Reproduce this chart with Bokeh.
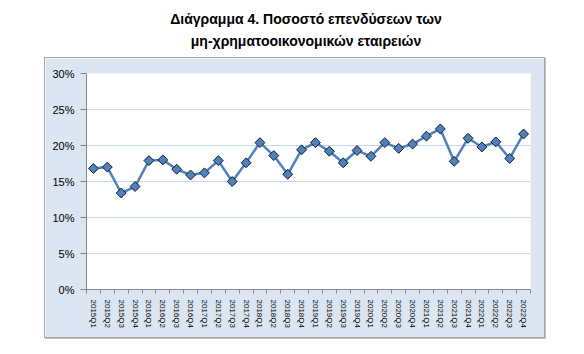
from bokeh.plotting import figure
from bokeh.layouts import column
from bokeh.core.properties import value
from bokeh.models import FixedTicker, PrintfTickFormatter, Range1d, ColumnDataSource
from bokeh.embed import file_html
from bokeh.resources import INLINE

quarters = ["2015Q1", "2015Q2", "2015Q3", "2015Q4",
            "2016Q1", "2016Q2", "2016Q3", "2016Q4",
            "2017Q1", "2017Q2", "2017Q3", "2017Q4",
            "2018Q1", "2018Q2", "2018Q3", "2018Q4",
            "2019Q1", "2019Q2", "2019Q3", "2019Q4",
            "2020Q1", "2020Q2", "2020Q3", "2020Q4",
            "2021Q1", "2021Q2", "2021Q3", "2021Q4",
            "2022Q1", "2022Q2", "2022Q3", "2022Q4"]
share = [16.8, 17.0, 13.4, 14.3,
         17.9, 18.0, 16.7, 15.9,
         16.2, 17.9, 15.0, 17.6,
         20.4, 18.6, 16.0, 19.4,
         20.4, 19.2, 17.6, 19.3,
         18.5, 20.4, 19.6, 20.2,
         21.3, 22.3, 17.8, 21.0,
         19.8, 20.5, 18.2, 21.6]
y_ticks = [0, 5, 10, 15, 20, 25, 30]
title_lines = ["Διάγραμμα 4. Ποσοστό επενδύσεων των",
               "μη-χρηματοοικονομικών εταιρειών"]

FONT = "Liberation Sans"
n = len(quarters)
xpos = [i + 0.5 for i in range(n)]
src = ColumnDataSource(dict(x=xpos, y=share, q=quarters))

# ---- title strip ----
TW, TH = 584, 58
tf = figure(width=TW, height=TH, output_backend="svg", toolbar_location=None,
            x_range=Range1d(0, TW), y_range=Range1d(TH, 0),
            min_border=0, outline_line_color=None,
            background_fill_color="white", border_fill_color="white")
tf.axis.visible = False
tf.grid.visible = False
tf.text(x=[292, 292], y=[18, 40], text=title_lines,
        text_align="center", text_baseline="middle",
        text_font=value(FONT), text_font_style="bold", text_font_size="14px",
        text_color="#000000")

# ---- chart panel ----
PW, PH = 499, 279
p = figure(width=PW, height=PH, output_backend="svg", toolbar_location=None,
           x_range=Range1d(0, n), y_range=Range1d(0, 30),
           min_border_left=41, min_border_right=14, min_border_top=15, min_border_bottom=48,
           background_fill_color="white", border_fill_color="#DCE6F2", outline_line_color=None,
           margin=(0, 0, 0, 45),
           styles={"outline": "1px solid #A6A6A6", "box-shadow": "1px 1px 0px 1px #C0C0C0"})

p.line("x", "y", source=src, line_color="#4F81BD", line_width=2.5)
p.scatter("x", "y", source=src, marker="square", angle=0.785398, size=7,
          fill_color="#4F81BD", line_color="#141C28", line_width=1)

p.xgrid.visible = False
p.ygrid.grid_line_color = "#C6D6EC"
p.ygrid.grid_line_width = 1
p.yaxis.ticker = FixedTicker(ticks=y_ticks)
p.yaxis.formatter = PrintfTickFormatter(format="%d%%")
p.yaxis.major_tick_out = 6
p.yaxis.major_tick_in = 0
p.yaxis.minor_tick_out = 0
p.yaxis.minor_tick_in = 0
p.yaxis.major_label_standoff = 6
p.yaxis.major_label_text_font = FONT
p.yaxis.major_label_text_font_size = "11px"
p.yaxis.major_label_text_color = "#000000"

p.xaxis.ticker = FixedTicker(ticks=xpos, minor_ticks=list(range(n + 1)))
p.xaxis.major_label_overrides = {x: q for x, q in zip(xpos, quarters)}
p.xaxis.major_label_orientation = "vertical"
p.xaxis.major_tick_out = 0
p.xaxis.major_tick_in = 0
p.xaxis.minor_tick_out = 4
p.xaxis.minor_tick_in = 0
p.xaxis.major_label_standoff = 6
p.xaxis.major_label_text_font = FONT
p.xaxis.major_label_text_font_size = "8px"
p.xaxis.major_label_text_color = "#000000"

for ax in (p.xaxis[0], p.yaxis[0]):
    ax.axis_line_color = "#868686"
    ax.major_tick_line_color = "#868686"
    ax.minor_tick_line_color = "#868686"

layout = column(tf, p, spacing=0)
open("out.html", "w").write(file_html(layout, INLINE))
